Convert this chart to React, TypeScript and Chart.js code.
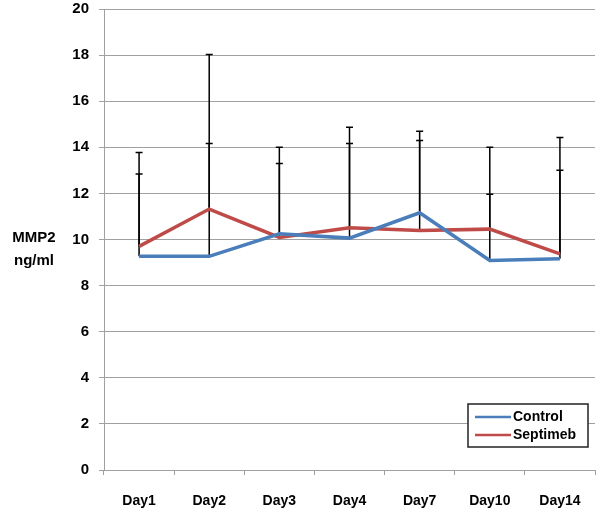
import React, { useEffect, useRef } from "react";
import { Chart, registerables } from "chart.js";

Chart.register(...registerables);

const categories = ["Day1", "Day2", "Day3", "Day4", "Day7", "Day10", "Day14"];
const controlValues = [9.27, 9.27, 10.25, 10.06, 11.16, 9.09, 9.16];
const septimebValues = [9.7, 11.32, 10.09, 10.51, 10.39, 10.45, 9.38];
// upper error amounts (plus direction only)
const controlErrors = [3.57, 4.89, 3.05, 4.11, 3.13, 2.87, 3.84];
const septimebErrors = [4.07, 6.71, 3.91, 4.36, 4.31, 3.55, 5.04];
const yTicks = [0, 2, 4, 6, 8, 10, 12, 14, 16, 18, 20];

const BLUE = "#4a7ebb";
const RED = "#be4b48";
const FONT = "'Liberation Sans', Arial, sans-serif";

const errorBarPlugin = {
  id: "errorBars",
  beforeDatasetsDraw(chart: any) {
    const ctx = chart.ctx;
    const x = chart.scales.x;
    const y = chart.scales.y;
    const sets = [
      { vals: controlValues, errs: controlErrors },
      { vals: septimebValues, errs: septimebErrors },
    ];
    ctx.save();
    ctx.strokeStyle = "#000";
    ctx.lineWidth = 1.5;
    sets.forEach((s) => {
      s.vals.forEach((v, i) => {
        const px = x.getPixelForValue(i);
        const py0 = y.getPixelForValue(v);
        const py1 = y.getPixelForValue(v + s.errs[i]);
        ctx.beginPath();
        ctx.moveTo(px, py0);
        ctx.lineTo(px, py1);
        ctx.moveTo(px - 3.5, py1);
        ctx.lineTo(px + 3.5, py1);
        ctx.stroke();
      });
    });
    ctx.restore();
  },
};

const decorPlugin = {
  id: "decor",
  afterDraw(chart: any) {
    const ctx = chart.ctx;
    const area = chart.chartArea;
    ctx.save();
    // y axis title
    ctx.fillStyle = "#000";
    ctx.font = `bold 15px ${FONT}`;
    ctx.textAlign = "center";
    ctx.textBaseline = "middle";
    const yMid = chart.scales.y.getPixelForValue(10);
    ctx.fillText("MMP2", 34, yMid - 2);
    ctx.fillText("ng/ml", 34, yMid + 21);

    // legend box
    const bx = area.right - 127;
    const by = area.bottom - 66;
    const bw = 120;
    const bh = 43;
    ctx.fillStyle = "#fff";
    ctx.fillRect(bx, by, bw, bh);
    ctx.strokeStyle = "#222";
    ctx.lineWidth = 1.5;
    ctx.strokeRect(bx, by, bw, bh);
    const items = [
      { label: "Control", color: BLUE },
      { label: "Septimeb", color: RED },
    ];
    ctx.font = `bold 14px ${FONT}`;
    ctx.textAlign = "left";
    items.forEach((it, i) => {
      const cy = by + 13 + i * 18;
      ctx.strokeStyle = it.color;
      ctx.lineWidth = 2.5;
      ctx.beginPath();
      ctx.moveTo(bx + 7, cy);
      ctx.lineTo(bx + 43, cy);
      ctx.stroke();
      ctx.fillStyle = "#000";
      ctx.fillText(it.label, bx + 45, cy);
    });
    ctx.restore();
  },
};

export default function App() {
  const ref = useRef<HTMLCanvasElement>(null);
  useEffect(() => {
    document.body.style.margin = "0";
    const chart = new Chart(ref.current!, {
      type: "line",
      data: {
        labels: categories,
        datasets: [
          {
            label: "Control",
            data: controlValues,
            borderColor: BLUE,
            backgroundColor: BLUE,
            borderWidth: 3.5,
            pointRadius: 0,
            tension: 0,
          },
          {
            label: "Septimeb",
            data: septimebValues,
            borderColor: RED,
            backgroundColor: RED,
            borderWidth: 3.5,
            pointRadius: 0,
            tension: 0,
          },
        ],
      },
      options: {
        animation: false,
        responsive: false,
        layout: { padding: { top: 9, right: 5, left: 0, bottom: 0 } },
        plugins: { legend: { display: false }, tooltip: { enabled: false } },
        scales: {
          x: {
            offset: true,
            grid: {
              offset: true,
              drawOnChartArea: false,
              drawTicks: true,
              tickLength: 5,
              color: "#a0a0a0",
            },
            border: { color: "#a0a0a0", width: 1 },
            ticks: {
              color: "#000",
              font: { family: FONT, size: 14, weight: "bold" },
              padding: 18,
              maxRotation: 0,
            },
            afterFit(scale: any) {
              scale.height = 43;
            },
          },
          y: {
            min: 0,
            max: 20,
            afterBuildTicks(scale: any) {
              scale.ticks = yTicks.map((v) => ({ value: v }));
            },
            grid: { color: "#a0a0a0", tickLength: 5 },
            border: { color: "#a0a0a0", width: 1 },
            ticks: {
              color: "#000",
              font: { family: FONT, size: 15, weight: "bold" },
              padding: 10,
            },
            afterFit(scale: any) {
              scale.width = 104;
              scale.paddingTop = 0;
              scale.paddingBottom = 0;
            },
          },
        },
      },
      plugins: [errorBarPlugin, decorPlugin],
    });
    return () => chart.destroy();
  }, []);
  return <canvas ref={ref} width={600} height={513} style={{ display: "block" }} />;
}
